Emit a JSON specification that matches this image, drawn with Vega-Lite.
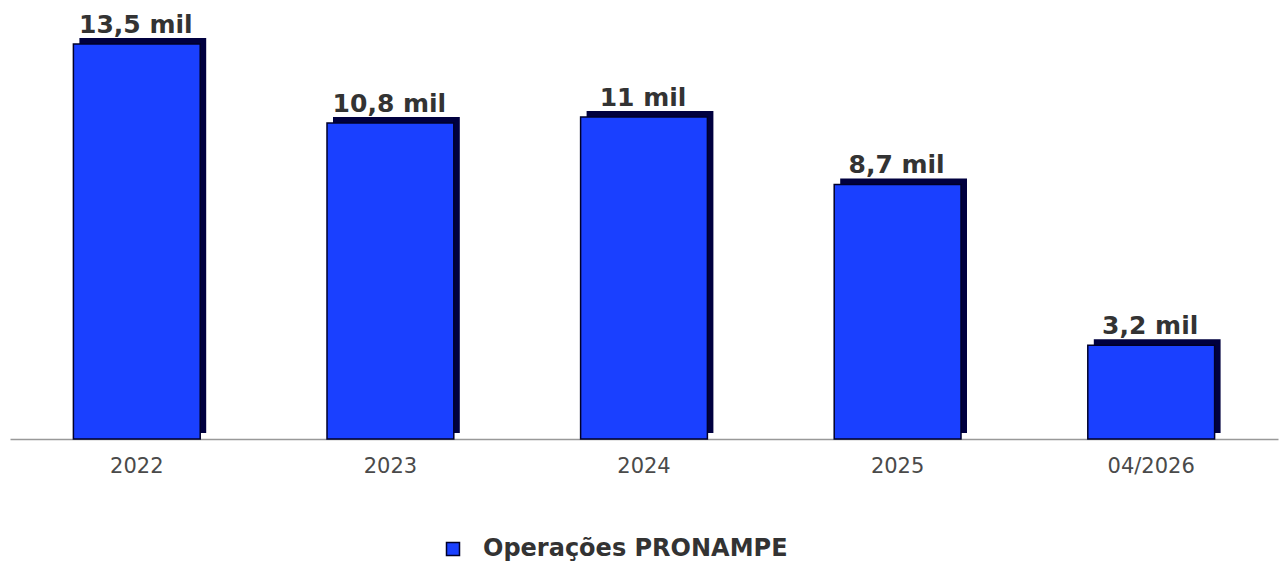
{
  "$schema": "https://vega.github.io/schema/vega-lite/v6.json",
  "width": 1268,
  "height": 439,
  "autosize": {"type": "none"},
  "padding": {"left": 10, "top": 0, "right": 5, "bottom": 125},
  "background": "white",
  "config": {"view": {"stroke": null}},
  "data": {
    "values": [
      {"period": "2022", "value": 13500, "label": "13,5 mil", "series": "Operações PRONAMPE"},
      {"period": "2023", "value": 10800, "label": "10,8 mil", "series": "Operações PRONAMPE"},
      {"period": "2024", "value": 11000, "label": "11 mil", "series": "Operações PRONAMPE"},
      {"period": "2025", "value": 8700, "label": "8,7 mil", "series": "Operações PRONAMPE"},
      {"period": "04/2026", "value": 3200, "label": "3,2 mil", "series": "Operações PRONAMPE"}
    ]
  },
  "encoding": {
    "x": {
      "field": "period", "type": "nominal", "sort": null,
      "scale": {"paddingInner": 0.5, "paddingOuter": 0.25},
      "axis": {
        "title": null, "labelAngle": 0, "ticks": false, "grid": false,
        "domainColor": "#999999", "domainWidth": 1.5,
        "labelColor": "#4a4a4a", "labelFont": "DejaVu Sans", "labelFontSize": 21,
        "labelPadding": 16
      }
    },
    "y": {
      "field": "value", "type": "quantitative",
      "scale": {"domain": [0, 15000], "nice": false, "zero": true},
      "axis": null
    }
  },
  "layer": [
    {
      "mark": {"type": "bar", "color": "#00003f", "xOffset": 6, "yOffset": -6, "y2Offset": -6}
    },
    {
      "mark": {"type": "bar", "stroke": "#00002a", "strokeWidth": 1.5},
      "encoding": {
        "color": {
          "field": "series", "type": "nominal",
          "scale": {"range": ["#1a40ff"]},
          "legend": {
            "title": null, "orient": "none", "legendX": 431, "legendY": 537,
            "symbolType": "square", "symbolSize": 169,
            "symbolStrokeColor": "#00002a", "symbolStrokeWidth": 1.5,
            "labelFont": "DejaVu Sans", "labelFontSize": 24, "labelFontWeight": "bold",
            "labelColor": "#333333", "labelOffset": 18, "labelLimit": 0, "padding": 0
          }
        }
      }
    },
    {
      "mark": {"type": "text", "baseline": "alphabetic", "dy": -11, "dx": -1, "font": "DejaVu Sans", "fontSize": 25, "fontWeight": "bold", "color": "#333333"},
      "encoding": {"text": {"field": "label"}}
    }
  ]
}
